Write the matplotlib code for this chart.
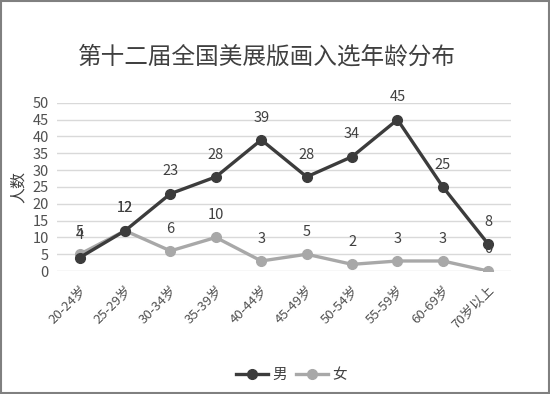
import matplotlib
matplotlib.use("Agg")
import matplotlib.pyplot as plt
from matplotlib.patches import Rectangle

plt.rcParams['font.family'] = ['Noto Sans CJK SC', 'DejaVu Sans']

categories = ["20-24岁", "25-29岁", "30-34岁", "35-39岁", "40-44岁",
              "45-49岁", "50-54岁", "55-59岁", "60-69岁", "70岁以上"]
male = [4, 12, 23, 28, 39, 28, 34, 45, 25, 8]
female = [5, 12, 6, 10, 3, 5, 2, 3, 3, 0]
yticks = [0, 5, 10, 15, 20, 25, 30, 35, 40, 45, 50]
title = "第十二届全国美展版画入选年龄分布"

fig = plt.figure(figsize=(5.5, 3.94), dpi=100)
ax = fig.add_axes([0.1036, 0.312, 0.8255, 0.427])

x = list(range(len(categories)))
male_c = "#3c3c3c"
female_c = "#a8a8a8"
ax.plot(x, male, color=male_c, lw=2.4, marker='o', ms=7, label="男", zorder=3)
ax.plot(x, female, color=female_c, lw=2.4, marker='o', ms=7, label="女", zorder=2)

for xi, v in zip(x, male):
    ax.annotate(str(v), (xi, v), xytext=(0, 16), textcoords='offset points',
                ha='center', va='center', fontsize=10.5, color="#404040", zorder=5)
for xi, v in zip(x, female):
    ax.annotate(str(v), (xi, v), xytext=(0, 16), textcoords='offset points',
                ha='center', va='center', fontsize=10.5, color="#404040", zorder=5)

ax.set_xlim(-0.5, len(categories) - 0.5)
ax.set_ylim(0, 50)
ax.set_yticks(yticks)
ax.set_xticks(x)
ax.set_xticklabels(categories, rotation=45, ha='right', rotation_mode='anchor',
                   fontsize=9.5, color="#505050")
ax.tick_params(axis='y', labelsize=10.5, labelcolor="#505050", length=0, pad=6)
ax.tick_params(axis='x', length=0, pad=9)
ax.grid(axis='y', color="#d9d9d9", lw=1)
ax.set_axisbelow(True)
for s in ax.spines.values():
    s.set_visible(False)
ax.set_ylabel("人数", fontsize=11.5, color="#404040", labelpad=4)

fig.text(0.485, 0.855, title, ha='center', va='center', fontsize=17, color="#404040")

fig.legend(loc='center', bbox_to_anchor=(0.53, 0.048), ncol=2, frameon=False,
           fontsize=10.5, handlelength=2.2, columnspacing=0.6, handletextpad=0.3,
           labelcolor="#404040")

fig.patches.append(Rectangle((0.002, 0.003), 0.996, 0.994, transform=fig.transFigure,
                             fill=False, edgecolor="#808080", lw=1.5))

fig.savefig("out.png", dpi=100)
